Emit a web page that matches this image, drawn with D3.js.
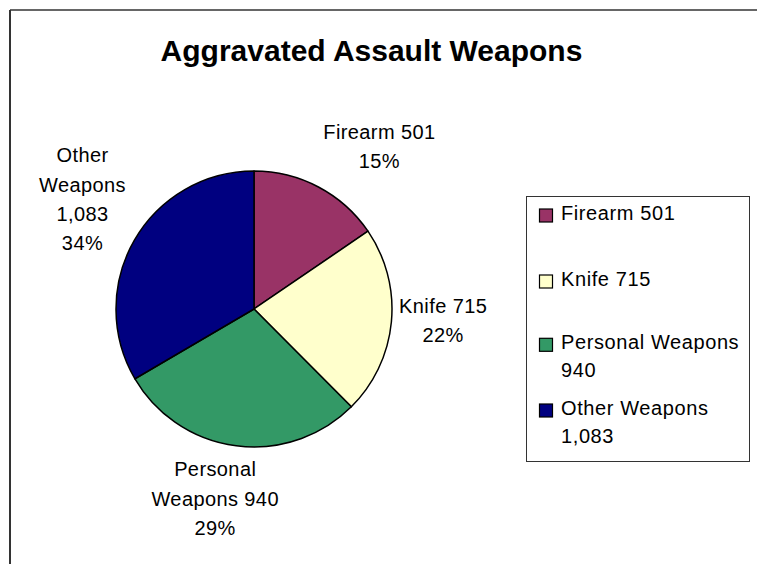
<!DOCTYPE html>
<html>
<head>
<meta charset="utf-8">
<script src="https://cdn.jsdelivr.net/npm/d3@7"></script>
<style>
  html, body { margin: 0; padding: 0; background: #fff; }
  svg { display: block; }
  text { font-family: "Liberation Sans", Arial, sans-serif; fill: #000; }
</style>
</head>
<body>
<svg id="chart" width="757" height="564"></svg>
<script>
// ---- data ----
const title = "Aggravated Assault Weapons";
const categories = ["Firearm", "Knife", "Personal Weapons", "Other Weapons"];
const values = [501, 715, 940, 1083];
const percentLabels = ["15%", "22%", "29%", "34%"];
const colors = ["#993366", "#FFFFCC", "#339966", "#000080"];
// data-label line breaks as shown on the chart
const labelLines = [
  ["Firearm 501", "15%"],
  ["Knife 715", "22%"],
  ["Personal", "Weapons 940", "29%"],
  ["Other", "Weapons", "1,083", "34%"]
];
const legendLines = [
  ["Firearm 501"],
  ["Knife 715"],
  ["Personal Weapons", "940"],
  ["Other Weapons", "1,083"]
];

// ---- layout ----
const svg = d3.select("#chart");
const W = 757, H = 564;
const cx = 254, cy = 309, R = 138;
const labelR = 185;
const labelNudge = [[39, 1], [5, -6], [-15, 6], [-11, -18]];
const fontSize = 20, lineH = 29.3;

// outer frame (only top and left visible in view)
svg.append("line").attr("x1", 10).attr("y1", 10).attr("x2", W + 5).attr("y2", 10)
  .attr("stroke", "#333").attr("stroke-width", 1.5);
svg.append("line").attr("x1", 10).attr("y1", 10).attr("x2", 10).attr("y2", H + 5)
  .attr("stroke", "#333").attr("stroke-width", 2);

// title
svg.append("text")
  .attr("x", 371.5).attr("y", 61)
  .attr("text-anchor", "middle")
  .attr("font-size", 30).attr("font-weight", "bold")
  .text(title);

// pie
const pie = d3.pie().sort(null).value(d => d.value).startAngle(0).endAngle(2 * Math.PI);
const data = categories.map((c, i) => ({ name: c, value: values[i], i }));
const arcs = pie(data);
const arc = d3.arc().innerRadius(0).outerRadius(R);
const g = svg.append("g").attr("transform", `translate(${cx},${cy})`);
g.selectAll("path.slice").data(arcs).join("path")
  .attr("class", "slice")
  .attr("d", arc)
  .attr("fill", d => colors[d.data.i])
  .attr("stroke", "#000")
  .attr("stroke-width", 1.5)
  .attr("stroke-linejoin", "round");

// data labels
const labelArc = d3.arc().innerRadius(labelR).outerRadius(labelR);
arcs.forEach(a => {
  const i = a.data.i;
  const [x0, y0] = labelArc.centroid(a);
  const lines = labelLines[i];
  const x = cx + x0 + labelNudge[i][0];
  const yc = cy + y0 + labelNudge[i][1];
  const capH = fontSize * 0.716;
  const blockH = capH + (lines.length - 1) * lineH;
  const firstBase = yc - blockH / 2 + capH;
  const t = svg.append("text")
    .attr("text-anchor", "middle")
    .attr("font-size", fontSize)
    .attr("letter-spacing", 0.4);
  lines.forEach((ln, k) => {
    t.append("tspan").attr("x", x).attr("y", firstBase + k * lineH).text(ln);
  });
});

// legend
const lg = svg.append("g");
lg.append("rect")
  .attr("x", 526.5).attr("y", 196.5).attr("width", 223).attr("height", 265)
  .attr("fill", "#fff").attr("stroke", "#333").attr("stroke-width", 1);
const legendBase = [220, 286, 349.3, 415];
const legendLineH = 28;
legendLines.forEach((lines, i) => {
  const by = legendBase[i];
  lg.append("rect")
    .attr("x", 539.5).attr("y", by - 11).attr("width", 13).attr("height", 13)
    .attr("fill", colors[i]).attr("stroke", "#000").attr("stroke-width", 1.2);
  const t = lg.append("text").attr("font-size", fontSize).attr("letter-spacing", 0.6);
  lines.forEach((ln, k) => {
    t.append("tspan").attr("x", 561).attr("y", by + k * legendLineH).text(ln);
  });
});
</script>
</body>
</html>
